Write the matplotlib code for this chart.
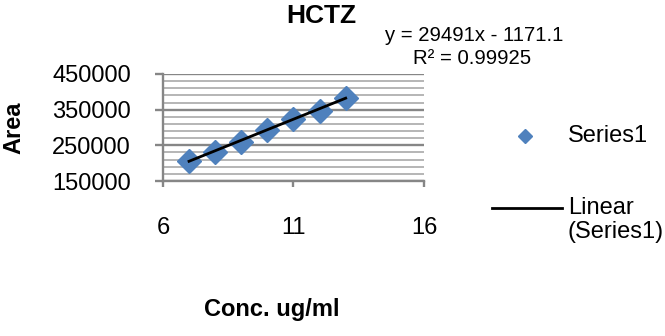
import matplotlib.pyplot as plt
from matplotlib.lines import Line2D

conc = [7, 8, 9, 10, 11, 12, 13]
area = [206000, 232500, 258000, 292500, 323500, 347000, 383000]
slope = 29491
intercept = -1171.1
x_ticks = [6, 11, 16]
y_ticks = [150000, 250000, 350000, 450000]

plt.rcParams['font.family'] = ['Liberation Sans', 'DejaVu Sans']

fig = plt.figure(figsize=(6.65, 3.36), dpi=100)
ax = fig.add_axes([0.245, 0.4613, 0.3926, 0.3185])

# gridlines: minor every 20000, major every 100000
for v in range(170000, 450001, 20000):
    ax.axhline(v, color='#b0b0b0', lw=1.3, zorder=0)
for v in y_ticks:
    ax.axhline(v, color='#868686', lw=1.7, zorder=1)

ax.plot(conc, area, linestyle='none', marker='D', ms=12.5, color='#4f81bd', zorder=3)
fit_x = [conc[0], conc[-1]]
fit_y = [slope * x + intercept for x in fit_x]
ax.plot(fit_x, fit_y, color='black', lw=2, zorder=4)

ax.set_xlim(6, 16)
ax.set_ylim(150000, 450000)
ax.set_xticks(x_ticks)
ax.set_yticks(y_ticks)
ax.tick_params(labelsize=17, color='#868686', width=1.7)
ax.tick_params(axis='y', length=6, pad=17)
ax.tick_params(axis='x', length=4, pad=22)
for s in ['top', 'right']:
    ax.spines[s].set_visible(False)
for s in ['left', 'bottom']:
    ax.spines[s].set_color('#868686')
    ax.spines[s].set_linewidth(1.7)

fig.text(0.483, 0.952, 'HCTZ', ha='center', va='center', fontsize=19, fontweight='bold')
fig.text(0.579, 0.893, 'y = 29491x - 1171.1', ha='left', va='center', fontsize=14.6)
fig.text(0.621, 0.827, 'R² = 0.99925', ha='left', va='center', fontsize=14.6)
fig.text(0.021, 0.619, 'Area', rotation=90, ha='center', va='center', fontsize=17, fontweight='bold')
fig.text(0.408, 0.080, 'Conc. ug/ml', ha='center', va='center', fontsize=17, fontweight='bold')

# legend, drawn by hand so the line sits beside the first text line
fig.add_artist(Line2D([0.790], [0.595], transform=fig.transFigure, linestyle='none',
                      marker='D', ms=7.5, color='#4f81bd'))
fig.text(0.854, 0.595, 'Series1', ha='left', va='center', fontsize=17)
fig.add_artist(Line2D([0.740, 0.845], [0.381, 0.381], transform=fig.transFigure,
                      color='black', lw=2))
fig.text(0.854, 0.381, 'Linear', ha='left', va='center', fontsize=17)
fig.text(0.854, 0.310, '(Series1)', ha='left', va='center', fontsize=17)

fig.savefig('out.png', dpi=100)
